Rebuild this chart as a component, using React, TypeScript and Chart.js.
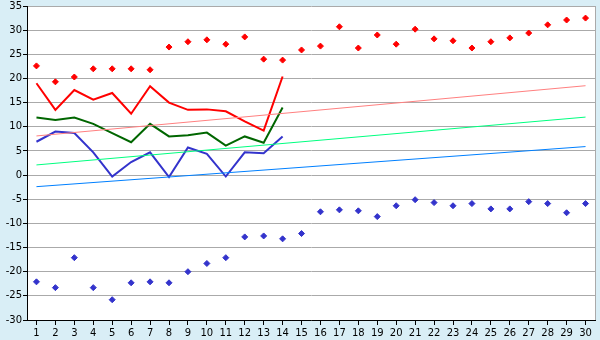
import React, { useEffect, useRef } from "react";
import { Chart, registerables } from "chart.js";

Chart.register(...registerables);

const days = Array.from({ length: 30 }, (_, i) => String(i + 1));

const recordMax = [22.6, 19.3, 20.3, 22.0, 22.0, 22.0, 21.8, 26.5, 27.6, 28.0, 27.1, 28.6, 24.0, 23.8, 25.9, 26.7, 30.7, 26.3, 29.0, 27.1, 30.2, 28.2, 27.8, 26.3, 27.6, 28.4, 29.4, 31.1, 32.1, 32.5];
const recordMin = [-22.1, -23.3, -17.1, -23.3, -25.8, -22.3, -22.1, -22.3, -20.0, -18.3, -17.1, -12.8, -12.6, -13.2, -12.1, -7.6, -7.2, -7.4, -8.6, -6.35, -5.1, -5.7, -6.35, -5.9, -7.0, -7.0, -5.5, -5.9, -7.8, -5.9];
const maxTemp = [19.0, 13.5, 17.6, 15.6, 17.0, 12.7, 18.4, 15.0, 13.5, 13.6, 13.2, 11.1, 9.2, 20.4];
const avgTemp = [11.9, 11.4, 11.9, 10.6, 8.7, 6.8, 10.6, 8.0, 8.25, 8.8, 6.1, 8.0, 6.7, 14.0];
const minTemp = [6.9, 9.0, 8.7, 4.7, -0.3, 2.7, 4.7, -0.4, 5.7, 4.4, -0.3, 4.7, 4.5, 8.0];
// trend lines: value on day 1 and day 30
const trendMax = [8.1, 18.5];
const trendAvg = [2.1, 12.0];
const trendMin = [-2.4, 5.9];
const yTicks = [-30, -25, -20, -15, -10, -5, 0, 5, 10, 15, 20, 25, 30, 35];

const endsOnly = (pair: number[]) =>
  days.map((_, i) => (i === 0 ? pair[0] : i === days.length - 1 ? pair[1] : null));

export default function App() {
  const ref = useRef<HTMLCanvasElement | null>(null);
  useEffect(() => {
    document.body.style.margin = "0";
    const bgPlugin = {
      id: "bg",
      beforeDraw(chart: any) {
        const { ctx, chartArea } = chart;
        ctx.save();
        ctx.fillStyle = "#d9eef6";
        ctx.fillRect(0, 0, chart.width, chart.height);
        ctx.fillStyle = "#ffffff";
        ctx.fillRect(chartArea.left, chartArea.top, chartArea.right - chartArea.left, chartArea.bottom - chartArea.top);
        ctx.restore();
      },
      beforeDatasetsDraw(chart: any) {
        const { ctx, chartArea } = chart;
        ctx.save();
        ctx.strokeStyle = "#aaaaaa";
        ctx.lineWidth = 1;
        ctx.beginPath();
        ctx.moveTo(Math.round(chartArea.right) + 0.5, chartArea.top);
        ctx.lineTo(Math.round(chartArea.right) + 0.5, chartArea.bottom);
        ctx.stroke();
        ctx.restore();
      },
    };
    const font = { family: "'DejaVu Sans', Verdana, sans-serif", size: 10, lineHeight: 1 };
    const chart = new Chart(ref.current as HTMLCanvasElement, {
      type: "line",
      data: {
        labels: days,
        datasets: [
          { data: endsOnly(trendMax), borderColor: "#ff8080", borderWidth: 1, pointRadius: 0, spanGaps: true },
          { data: endsOnly(trendAvg), borderColor: "#00ff80", borderWidth: 1, pointRadius: 0, spanGaps: true },
          { data: endsOnly(trendMin), borderColor: "#0080ff", borderWidth: 1, pointRadius: 0, spanGaps: true },
          { data: maxTemp, borderColor: "#ff0000", borderWidth: 2, pointRadius: 0 },
          { data: avgTemp, borderColor: "#006600", borderWidth: 2, pointRadius: 0 },
          { data: minTemp, borderColor: "#3333cc", borderWidth: 2, pointRadius: 0 },
          { data: recordMax, showLine: false, pointStyle: "rectRot", pointRadius: 3, backgroundColor: "#ff0000", borderColor: "#ff0000", borderWidth: 1 },
          { data: recordMin, showLine: false, pointStyle: "rectRot", pointRadius: 3, backgroundColor: "#3333cc", borderColor: "#3333cc", borderWidth: 1 },
        ],
      },
      options: {
        responsive: false,
        animation: false,
        devicePixelRatio: 1,
        layout: { padding: { top: 0, right: 4, left: 0, bottom: 0 } },
        plugins: { legend: { display: false }, tooltip: { enabled: false } },
        elements: { line: { tension: 0 } },
        scales: {
          x: {
            type: "category",
            offset: true,
            grid: { offset: false, drawOnChartArea: false, tickLength: 5, tickColor: "#000000" },
            border: { color: "#000000" },
            ticks: { font, color: "#000000", padding: 3, maxRotation: 0, autoSkip: false },
            afterFit: (s: any) => { s.height = 20; },
          },
          y: {
            min: -30,
            max: 35,
            afterBuildTicks: (s: any) => { s.ticks = yTicks.map((v) => ({ value: v })); },
            grid: { color: "#aaaaaa", tickLength: 4, tickColor: "#000000" },
            border: { color: "#000000" },
            ticks: { font, color: "#000000", padding: 1 },
            afterFit: (s: any) => { s.width = 27; },
          },
        },
      },
      plugins: [bgPlugin],
    } as any);
    return () => chart.destroy();
  }, []);
  return <canvas ref={ref} width={600} height={340} style={{ display: "block" }} />;
}
